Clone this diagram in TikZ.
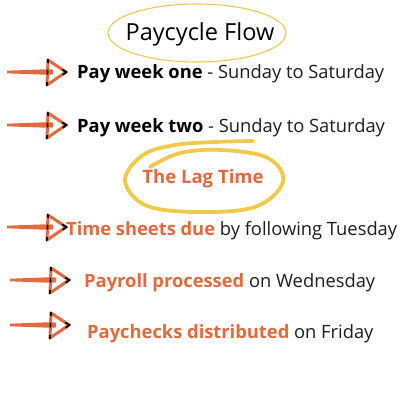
\documentclass[tikz,border=0pt]{standalone}
\usepackage{fontspec}
\setmainfont{Open Sans}
\definecolor{orng}{HTML}{E4693D}
\definecolor{yel}{HTML}{EFC84C}
\definecolor{ink}{HTML}{1C1C1C}
\tikzset{
  x=1bp, y=-1bp,
  rowtext/.style={anchor=base west, inner sep=0pt, font=\fontsize{18.4}{22}\selectfont, text=ink},
  handarrow/.pic={
    \fill[orng] (-41,-1.3) .. controls (-20,-2.8) .. (0,-2.8) -- (5,-2.4) -- (5,2.4) -- (0,2.8) .. controls (-20,2.6) .. (-41,1.3) -- cycle;
    \draw[orng, line width=3pt, line cap=round, line join=round] (0,-12) -- (18,0) -- (-1,13) -- cycle;
    \draw[black, line width=1.8pt, line cap=round] (-0.2,-12.5) -- (0.1,-9.5);
    \draw[black, line width=1.8pt, line cap=round] (-1,10.5) -- (-1.2,13.5);
    \draw[black, line width=1.8pt, line cap=round] (14.5,-2.2) -- (18.5,0) -- (15,2.6);
    \draw[black, line width=1.8pt, line cap=round] (-0.5,-1.5) -- (-0.4,1.8);
  }
}
\begin{document}
\begin{tikzpicture}
\useasboundingbox (0,0) rectangle (400,400);
% title
\node[anchor=base, inner sep=0pt, font=\fontsize{23.6}{27}\selectfont, text=black] (title) at (200,40) {Paycycle Flow};
\draw[yel, line width=1.1pt] (197,33) ellipse [x radius=89, y radius=29];
% rows
\pic at (48,72) {handarrow};
\node[rowtext] (r1) at (77,78) {\textbf{\color{black}Pay week one} - Sunday to Saturday};
\pic at (48,125) {handarrow};
\node[rowtext] (r2) at (77,132) {\textbf{\color{black}Pay week two} - Sunday to Saturday};
% lag time
\draw[yel, line width=3.8pt, line cap=round] plot[smooth, tension=0.6] coordinates {(253,141) (215,142) (175,145) (143,155) (125,180) (145,205) (195,212) (255,207) (283,182) (268,158) (222,150) (180,153) (150,167)};
\node[anchor=base, inner sep=0pt, font=\fontsize{18.6}{22}\selectfont\bfseries, text=orng] (lag) at (203,183) {The Lag Time};
\pic at (48,227) {handarrow};
\node[rowtext] (r3) at (66,235) {\textbf{\color{orng}Time sheets due} by following Tuesday};
\pic at (51,280) {handarrow};
\node[rowtext] (r4) at (84,287) {\textbf{\color{orng}Payroll processed} on Wednesday};
\pic at (51,325) {handarrow};
\node[rowtext] (r5) at (87,338) {\textbf{\color{orng}Paychecks distributed} on Friday};
\end{tikzpicture}
\end{document}
